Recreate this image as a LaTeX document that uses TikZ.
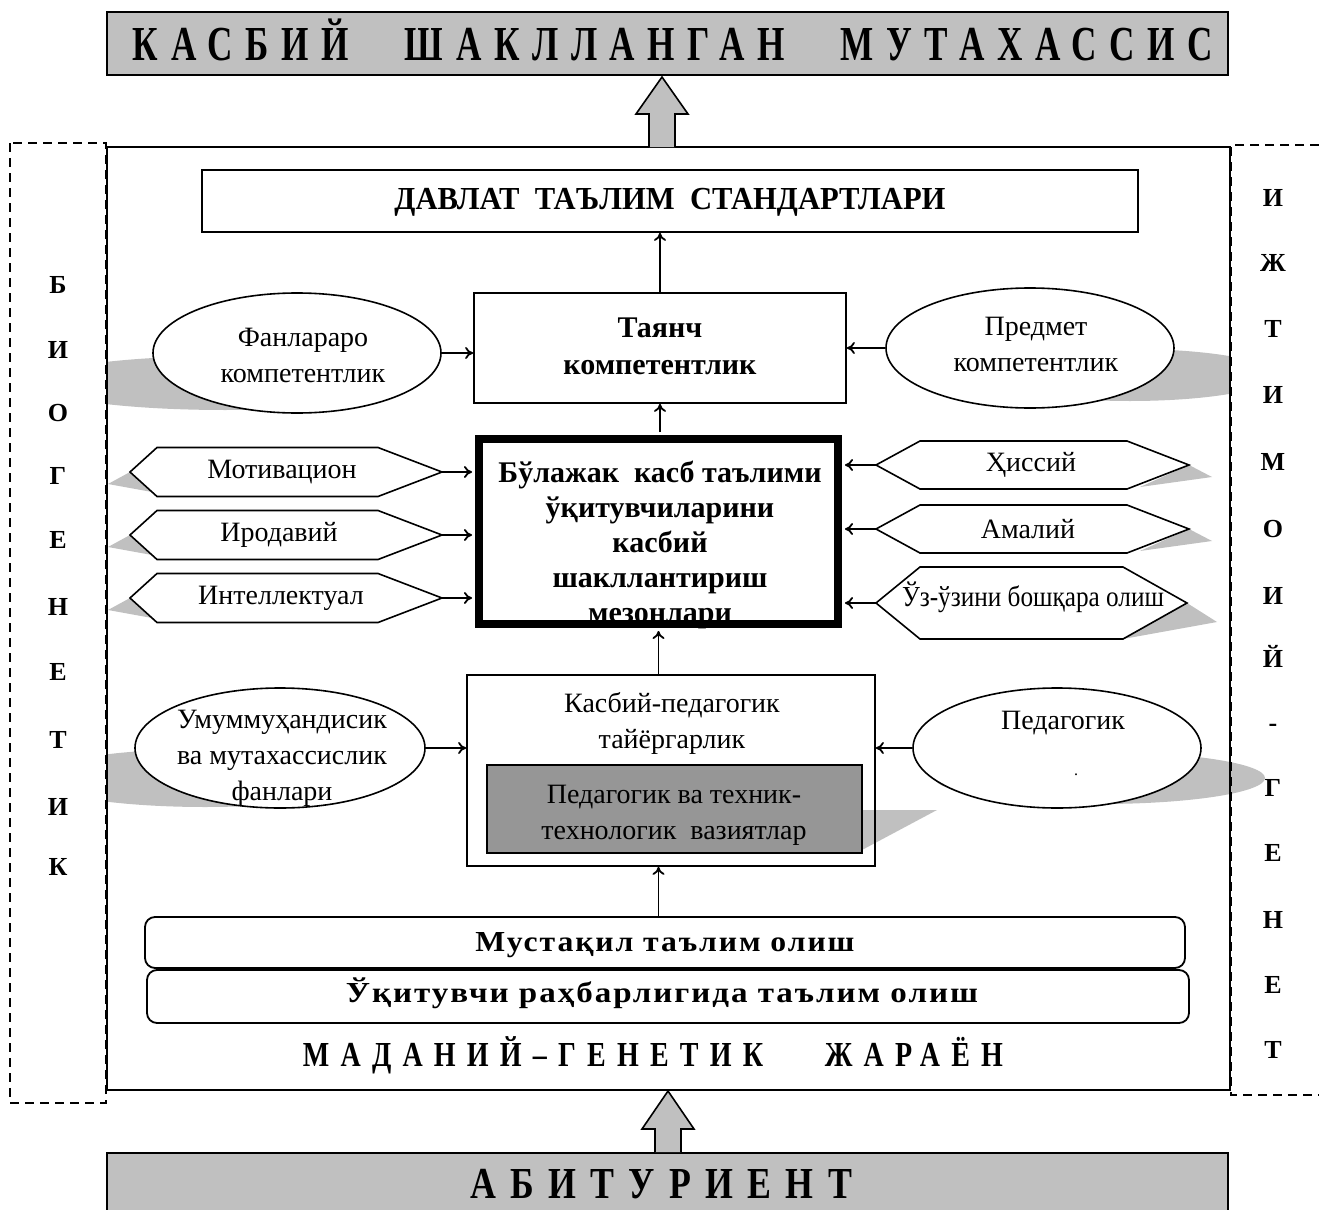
\documentclass[tikz,border=0pt]{standalone}
\usepackage{fontspec}
\setmainfont{Liberation Serif}
\usepackage{graphicx}
\usetikzlibrary{arrows.meta,shapes.geometric,calc}
\definecolor{bandgray}{RGB}{192,192,192}
\definecolor{boxgray}{RGB}{150,150,150}
\newcommand\fitcaps[4]{\resizebox{#1}{#2}{\addfontfeatures{LetterSpace=#3}\raisebox{0pt}[\fontcharht\font`H][0pt]{#4}}}
\begin{document}
\begin{tikzpicture}[x=0.5pt,y=-0.5pt,
  box/.style={draw,line width=0.9pt,inner sep=0},
  banner/.style={draw,fill=bandgray,line width=1pt,inner sep=0},
  arr/.style={line width=0.9pt,-{To[length=4pt,width=6pt]}},
  txt/.style={font=\fontsize{14}{18}\selectfont,align=center,inner sep=0},
  bold/.style={font=\bfseries,inner sep=0},
  col/.style={font=\bfseries\fontsize{13}{15}\selectfont,inner sep=0,anchor=base},
  ell/.style={ellipse,draw,fill=white,line width=0.8pt,minimum width=144pt,minimum height=60pt,inner sep=0},
  hexa/.style={draw,fill=white,line width=0.8pt},
  dashbox/.style={dash pattern=on 4.5pt off 3pt,line width=0.8pt},
  blockarrow/.style={draw,fill=bandgray,line width=0.8pt,line join=miter}]
\useasboundingbox (0,0) rectangle (1319,1210);

% ellipse shadows
\begin{scope}
\clip (107,0) rectangle (1230,1210);
\fill[bandgray] (225,383) ellipse [x radius=190, y radius=27];
\fill[bandgray] (1130,375) ellipse [x radius=145, y radius=26];
\fill[bandgray] (205,778) ellipse [x radius=170, y radius=29];
\end{scope}
\fill[bandgray] (1100,778) ellipse [x radius=165, y radius=26];

% frame and side boxes
\draw[line width=1pt] (107,147) rectangle (1230,1090);
\draw[dashbox] (10,143) rectangle (106,1103);
\draw[dashbox] (1319,145) -- (1231,145) -- (1231,1095) -- (1319,1095);

% top banner
\node[banner,minimum width=560.5pt,minimum height=31.5pt] (topb) at (667.5,43.5) {};
\node[bold] (topt) at (673,44) {\fitcaps{540pt}{16pt}{36}{КАСБИЙ\hspace{1.6em}ШАКЛЛАНГАН\hspace{1.6em}МУТАХАССИС}};
\coordinate (ftop) at (662,147);
\draw[blockarrow] ($(ftop)+(-13,0)$) -- ($(ftop |- topb.south)+(-13,38)$) -- ($(ftop |- topb.south)+(-26,38)$)
  -- ($(ftop |- topb.south)+(0,1)$) -- ($(ftop |- topb.south)+(26,38)$) -- ($(ftop |- topb.south)+(13,38)$) -- ($(ftop)+(13,0)$);

% standards box
\node[box,minimum width=468pt,minimum height=31pt] (dts) at (670,201) {};
\node[bold] (dtst) at (670,199) {\fitcaps{275.5pt}{10.5pt}{0}{ДАВЛАТ\ \ ТАЪЛИМ\ \ СТАНДАРТЛАРИ}};

% tayanch
\node[box,minimum width=186pt,minimum height=55pt] (tay) at (660,348) {};
\node[txt,font=\bfseries\fontsize{15}{18.5}\selectfont] (tayt) at (660,346) {Таянч\\компетентлик};
\draw[arr] (tay.north) -- (tay.north |- dts.south);

% competence ellipses
\node[ell] (fan) at (297,353) {};
\node[txt] (fant) at (303,355) {Фанлараро\\компетентлик};
\node[ell] (pred) at (1030,348) {};
\node[txt] (predt) at (1036,344) {Предмет\\компетентлик};
\draw[arr] (fan.east) -- (fan.east -| tay.west);
\draw[arr] (pred.west) -- (pred.west -| tay.east);

% core box
\node[draw,line width=3pt,minimum width=180.5pt,minimum height=93.5pt,inner sep=0] (core) at (658.5,531.5) {};
\draw[line width=1pt] ($(core.north west)+(7,7)$) rectangle ($(core.south east)+(-7,-7)$);
\node[txt,font=\bfseries\fontsize{15}{17.5}\selectfont] (coret) at (660,545) {Бўлажак\ \ касб таълими\\ўқитувчиларини\\касбий\\шакллантириш\\мезонлари};
\draw[arr,shorten <=1.5pt] (core.north -| tay.south) -- (tay.south);

% left hexagons
\foreach \nm/\cy/\tx/\tcx in {hm/472/Мотивацион/282, hi/535/Иродавий/279, hn/598/Интеллектуал/281}{
  \fill[bandgray] (108,\cy+12) -- (130,\cy) -- (152,\cy+20) -- cycle;
  \draw[hexa] (130,\cy) -- (157,\cy-24.5) -- (378,\cy-24.5) -- (442,\cy) -- (378,\cy+24.5) -- (157,\cy+24.5) -- cycle;
  \coordinate (\nm) at (442,\cy);
  \node[txt] (\nm t) at (\tcx,\cy) {\tx};
  \draw[arr,shorten >=1.5pt] (\nm) -- (\nm -| core.west);
}

% right hexagons
\foreach \nm/\cy/\tx/\tcx in {hh/465/Ҳиссий/1031, ha/529/Амалий/1028}{
  \fill[bandgray] (1189,\cy) -- (1212,\cy+12) -- (1140,\cy+22) -- cycle;
  \draw[hexa] (876,\cy) -- (920,\cy-24) -- (1127,\cy-24) -- (1189,\cy) -- (1127,\cy+24) -- (920,\cy+24) -- cycle;
  \coordinate (\nm) at (876,\cy);
  \node[txt] (\nm t) at (\tcx,\cy) {\tx};
  \draw[arr,shorten >=1.5pt] (\nm) -- (\nm -| core.east);
}
\fill[bandgray] (1187,603) -- (1217,622) -- (1123,639) -- cycle;
\draw[hexa] (876,603) -- (920,567) -- (1123,567) -- (1187,603) -- (1123,639) -- (920,639) -- cycle;
\coordinate (hu) at (876,603);
\node[inner sep=0,font=\fontsize{14}{18}\selectfont] (hut) at (1033,597) {\fitcaps{131pt}{9.5pt}{0}{Ўз-ўзини бошқара олиш}};
\draw[arr,shorten >=1.5pt] (hu) -- (hu -| core.east);

% professional-pedagogical box
\fill[bandgray] (862,810) -- (937,810) -- (862,850) -- cycle;
\node[box,minimum width=204pt,minimum height=95.5pt] (kp) at (671,770.5) {};
\node[txt] (kpt) at (672,723) {Касбий-педагогик\\тайёргарлик};
\node[draw,fill=boxgray,line width=0.9pt,minimum width=187.5pt,minimum height=44pt,inner sep=0] (pv) at (674.5,809) {};
\node[txt] (pvt) at (674,815) {Педагогик ва техник-\\технологик\ \ вазиятлар};
\draw[arr,shorten >=1.5pt] (kp.north -| core.center) -- (core.south);

\node[ell,minimum width=145pt] (umm) at (280,748) {};
\node[txt] (ummt) at (282,758) {Умуммуҳандисик\\ва мутахассислик\\фанлари};
\node[ell] (ped) at (1057,748) {};
\node[txt] (pedt) at (1063,723) {Педагогик};
\node[inner sep=0,font=\fontsize{8}{8}\selectfont] (pedd) at (1076,775) {.};
\draw[arr] (umm.east) -- (umm.east -| kp.west);
\draw[arr] (ped.west) -- (ped.west -| kp.east);

% bottom bars
\node[draw,line width=0.9pt,rounded corners=5pt,minimum width=520pt,minimum height=25.5pt,inner sep=0] (bar1) at (665,942.5) {};
\node[draw,line width=0.9pt,rounded corners=5pt,minimum width=521pt,minimum height=26.5pt,inner sep=0] (bar2) at (668,996.5) {};
\node[bold] (bar1t) at (665,942) {\fitcaps{189.5pt}{9.5pt}{6}{Мустақил таълим олиш}};
\node[bold] (bar2t) at (662,993) {\fitcaps{316pt}{9.5pt}{6}{Ўқитувчи раҳбарлигида таълим олиш}};
\draw[arr] (bar1.north -| core.center) -- (kp.south -| core.center);
\node[bold] (mgj) at (653,1055) {\fitcaps{350pt}{11.5pt}{40}{МАДАНИЙ–\hspace{0.4em}ГЕНЕТИК\hspace{2.2em}ЖАРАЁН}};

% bottom banner
\node[banner,minimum width=560.5pt,minimum height=31pt] (botb) at (667.5,1184) {};
\node[bold] (bott) at (661,1184) {\fitcaps{191pt}{14.5pt}{40}{АБИТУРИЕНТ}};
\coordinate (fbot) at (668,1090);
\draw[blockarrow] ($(fbot |- botb.north)+(-13,0)$) -- ($(fbot)+(-13,39)$) -- ($(fbot)+(-26,39)$)
  -- ($(fbot)+(0,1)$) -- ($(fbot)+(26,39)$) -- ($(fbot)+(13,39)$) -- ($(fbot |- botb.north)+(13,0)$);

% side columns
\foreach \ch/\yy [count=\i] in {Б/285,И/350,О/413,Г/476,Е/540,Н/607,Е/672,Т/740,И/807,К/867}
  \node[col] (bl\i) at (58,\yy+8.5) {\ch};
\foreach \ch/\yy [count=\i] in {И/198,Ж/263,Т/329,И/395,М/462,О/529,И/596,Й/659,-/723,Г/788,Е/853,Н/920,Е/985,Т/1050}
  \node[col] (br\i) at (1273,\yy+8.5) {\ch};
\end{tikzpicture}
\end{document}
